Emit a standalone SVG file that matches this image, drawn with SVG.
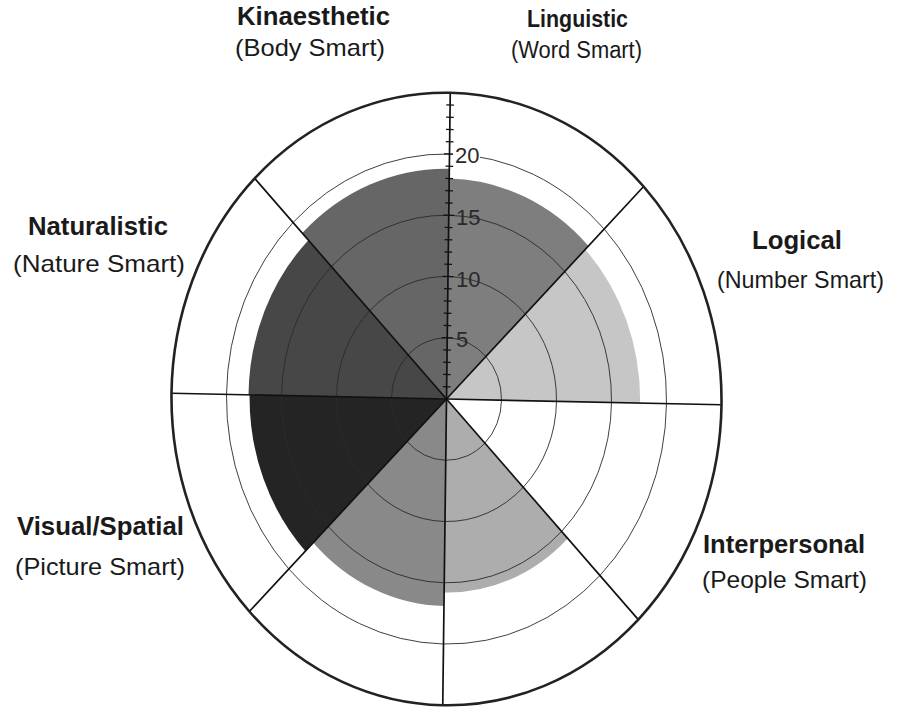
<svg xmlns="http://www.w3.org/2000/svg" width="899" height="709" viewBox="0 0 899 709">
  <style>
    .lbl { font-family: "Liberation Sans", Arial, sans-serif; fill: #1a1a1a; }
    .b { font-weight: bold; font-size: 25px; }
    .n { font-weight: normal; font-size: 24px; }
    .s { font-size: 23px; }
    .ax { font-family: "Liberation Sans", Arial, sans-serif; font-size: 22px; fill: #2a2a2a; }
    .ring { fill: none; stroke: #2a2a2a; stroke-width: 0.9; vector-effect: non-scaling-stroke; }
    .outer { fill: none; stroke: #222; stroke-width: 2.6; vector-effect: non-scaling-stroke; }
    .spoke { stroke: #111; stroke-width: 1.7; vector-effect: non-scaling-stroke; }
    .tick { stroke: #111; stroke-width: 1.2; vector-effect: non-scaling-stroke; }
  </style>
  <rect width="899" height="709" fill="#ffffff"/>
  <g id="chart" transform="matrix(11 0.23 -0.15 12.25 446.5 399)">
    <g id="sectors">
      <g id="sector-linguistic"><path d="M0 0 L0 -18 A18 18 0 0 1 12.728 -12.728 Z" fill="#7e7e7e"/></g>
      <g id="sector-logical"><path d="M0 0 L12.445 -12.445 A17.6 17.6 0 0 1 17.6 0 Z" fill="#c6c6c6"/></g>
      <g id="sector-lower-right"><path d="M0 0 L11.172 11.172 A15.8 15.8 0 0 1 0 15.8 Z" fill="#adadad"/></g>
      <g id="sector-lower-left"><path d="M0 0 L0 16.9 A16.9 16.9 0 0 1 -11.950 11.950 Z" fill="#898989"/></g>
      <g id="sector-visual"><path d="M0 0 L-12.657 12.657 A17.9 17.9 0 0 1 -17.9 0 Z" fill="#242424"/></g>
      <g id="sector-naturalistic"><path d="M0 0 L-18 0 A18 18 0 0 1 -12.728 -12.728 Z" fill="#474747"/></g>
      <g id="sector-kinaesthetic"><path d="M0 0 L-13.294 -13.294 A18.8 18.8 0 0 1 0 -18.8 Z" fill="#666666"/></g>
    </g>
    <g id="rings">
      <circle class="ring" cx="0" cy="0" r="5"/>
      <circle class="ring" cx="0" cy="0" r="10"/>
      <circle class="ring" cx="0" cy="0" r="15"/>
      <circle class="ring" cx="0" cy="0" r="20"/>
    </g>
    <g id="connectors">
      <line class="spoke" x1="0" y1="0" x2="0" y2="-25"/>
      <line class="spoke" x1="0" y1="0" x2="17.678" y2="-17.678"/>
      <line class="spoke" x1="0" y1="0" x2="25" y2="0"/>
      <line class="spoke" x1="0" y1="0" x2="17.678" y2="17.678"/>
      <line class="spoke" x1="0" y1="0" x2="0" y2="25"/>
      <line class="spoke" x1="0" y1="0" x2="-17.678" y2="17.678"/>
      <line class="spoke" x1="0" y1="0" x2="-25" y2="0"/>
      <line class="spoke" x1="0" y1="0" x2="-17.678" y2="-17.678"/>
    </g>
    <g id="ticks">
      <path class="tick" d="M-0.35 -1 H0.35 M-0.35 -2 H0.35 M-0.35 -3 H0.35 M-0.35 -4 H0.35 M-0.5 -5 H0.5 M-0.35 -6 H0.35 M-0.35 -7 H0.35 M-0.35 -8 H0.35 M-0.35 -9 H0.35 M-0.5 -10 H0.5 M-0.35 -11 H0.35 M-0.35 -12 H0.35 M-0.35 -13 H0.35 M-0.35 -14 H0.35 M-0.5 -15 H0.5 M-0.35 -16 H0.35 M-0.35 -17 H0.35 M-0.35 -18 H0.35 M-0.35 -19 H0.35 M-0.5 -20 H0.5 M-0.35 -21 H0.35 M-0.35 -22 H0.35 M-0.35 -23 H0.35 M-0.35 -24 H0.35"/>
    </g>
    <ellipse class="outer" cx="0" cy="0" rx="25" ry="25"/>
  </g>
  <g id="axis-labels">
    <rect x="453" y="145" width="27" height="20" fill="#ffffff"/>
    <text class="ax" x="455" y="163">20</text>
    <text class="ax" x="456" y="225">15</text>
    <text class="ax" x="456" y="287">10</text>
    <text class="ax" x="456" y="347">5</text>
  </g>
  <g id="label-kinaesthetic">
    <text class="lbl b" x="237" y="25" textLength="153" lengthAdjust="spacingAndGlyphs">Kinaesthetic</text>
    <text class="lbl n" x="235" y="56" textLength="150" lengthAdjust="spacingAndGlyphs">(Body Smart)</text>
  </g>
  <g id="label-linguistic">
    <text class="lbl b s" x="527" y="27" textLength="101" lengthAdjust="spacingAndGlyphs">Linguistic</text>
    <text class="lbl n s" x="511" y="58" textLength="131" lengthAdjust="spacingAndGlyphs">(Word Smart)</text>
  </g>
  <g id="label-naturalistic">
    <text class="lbl b" x="28" y="235" textLength="140" lengthAdjust="spacingAndGlyphs">Naturalistic</text>
    <text class="lbl n" x="13" y="272" textLength="172" lengthAdjust="spacingAndGlyphs">(Nature Smart)</text>
  </g>
  <g id="label-logical">
    <text class="lbl b" x="752" y="249" textLength="90" lengthAdjust="spacingAndGlyphs">Logical</text>
    <text class="lbl n" x="717" y="288" textLength="167" lengthAdjust="spacingAndGlyphs">(Number Smart)</text>
  </g>
  <g id="label-visual">
    <text class="lbl b" x="17" y="535" textLength="167" lengthAdjust="spacingAndGlyphs">Visual/Spatial</text>
    <text class="lbl n" x="15" y="575" textLength="170" lengthAdjust="spacingAndGlyphs">(Picture Smart)</text>
  </g>
  <g id="label-interpersonal">
    <text class="lbl b" x="703" y="553" textLength="162" lengthAdjust="spacingAndGlyphs">Interpersonal</text>
    <text class="lbl n" x="702" y="588" textLength="165" lengthAdjust="spacingAndGlyphs">(People Smart)</text>
  </g>
</svg>
